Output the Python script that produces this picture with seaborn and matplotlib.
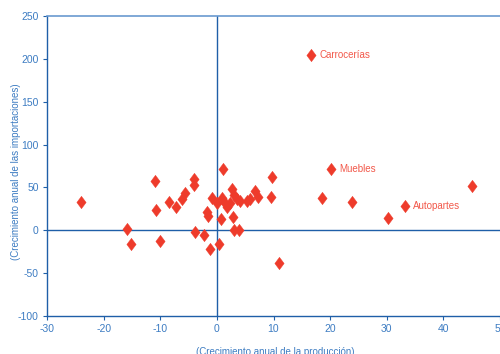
import matplotlib
matplotlib.use("Agg")
import matplotlib.pyplot as plt
from matplotlib.path import Path
import seaborn as sns
import pandas as pd

# Data
produccion = [-24.0, -15.8, -15.1, -11.0, -10.7, -10.0, -8.5, -7.3, -6.1, -5.7,
              -4.0, -4.0, -3.8, -2.2, -1.7, -1.5, -1.2, -0.9, 0.0, 0.3,
              0.7, 1.1, 0.9, 1.5, 1.8, 2.7, 3.0, 2.4, 2.9, 3.1,
              3.9, 3.5, 4.0, 5.3, 5.9, 6.8, 7.2, 9.8, 9.5, 11.0,
              18.5, 23.9, 30.3, 45.0, 16.7, 20.2, 33.2]
importaciones = [33.5, 1.5, -16.0, 57.5, 24.0, -12.0, 33.5, 27.5, 37.0, 44.0,
                 60.0, 53.0, -2.0, -6.0, 21.0, 17.0, -21.5, 38.0, 31.5, -16.0,
                 13.5, 71.5, 38.0, 31.5, 27.5, 48.5, 41.0, 32.0, 16.0, 0.0,
                 0.0, 36.0, 34.0, 34.0, 36.0, 46.0, 39.0, 62.0, 39.0, -38.0,
                 37.5, 33.5, 14.0, 52.0, 205.0, 71.5, 28.0]
etiquetas = ["Carrocerías", "Muebles", "Autopartes"]
etiqueta_x = [16.7, 20.2, 33.2]
etiqueta_y = [205.0, 71.5, 28.0]
x_ticks = [-30, -20, -10, 0, 10, 20, 30, 40, 50]
y_ticks = [-100, -50, 0, 50, 100, 150, 200, 250]

df = pd.DataFrame({"produccion": produccion, "importaciones": importaciones})

sns.set_theme(style="white")
plt.rcParams["font.family"] = ["Liberation Sans Narrow", "Liberation Sans", "DejaVu Sans"]

red = "#ee3b2b"
dark_blue = "#1f5fa8"
tick_blue = "#3d7cc2"

diamond = Path([(0, 1), (0.75, 0), (0, -1), (-0.75, 0), (0, 1)],
               [Path.MOVETO, Path.LINETO, Path.LINETO, Path.LINETO, Path.CLOSEPOLY])

fig = plt.figure(figsize=(5.0, 3.54), dpi=100)
ax = fig.add_axes([0.094, 0.1073, 0.906, 0.8475])

sns.scatterplot(data=df, x="produccion", y="importaciones", ax=ax,
                marker=diamond, s=80, color=red, edgecolor=red, linewidth=0.3,
                zorder=3, legend=False)

ax.axvline(0, color=dark_blue, lw=1.0, zorder=2)
ax.axhline(0, color=dark_blue, lw=1.0, zorder=2)

for t, x, y in zip(etiquetas, etiqueta_x, etiqueta_y):
    ax.annotate(t, (x, y), xytext=(6, 0), textcoords="offset points",
                va="center", ha="left", fontsize=7, color="#f2584a")

ax.set_xlim(-30, 50)
ax.set_ylim(-100, 250)
ax.set_xticks(x_ticks)
ax.set_yticks(y_ticks)
ax.set_xticklabels([str(v) for v in x_ticks])
ax.set_yticklabels([str(v) for v in y_ticks])

for side in ["left", "bottom"]:
    ax.spines[side].set_color(dark_blue)
    ax.spines[side].set_linewidth(1.0)
ax.spines["top"].set_color("#6a9ad0")
ax.spines["top"].set_linewidth(1.2)
ax.spines["right"].set_visible(False)

ax.tick_params(axis="both", which="major", direction="out", length=3, width=0.8,
               color=dark_blue, labelcolor=tick_blue, labelsize=7.5, pad=3)
ax.tick_params(axis="x", bottom=True)
ax.tick_params(axis="y", left=True)

ax.set_xlabel("(Crecimiento anual de la producción)", color=tick_blue, fontsize=7)
ax.set_ylabel("(Crecimiento anual de las importaciones)", color=tick_blue, fontsize=7)
ax.xaxis.set_label_coords(0.503, -0.103)
ax.yaxis.set_label_coords(-0.057, 0.48)

fig.savefig("out.png", dpi=100)
